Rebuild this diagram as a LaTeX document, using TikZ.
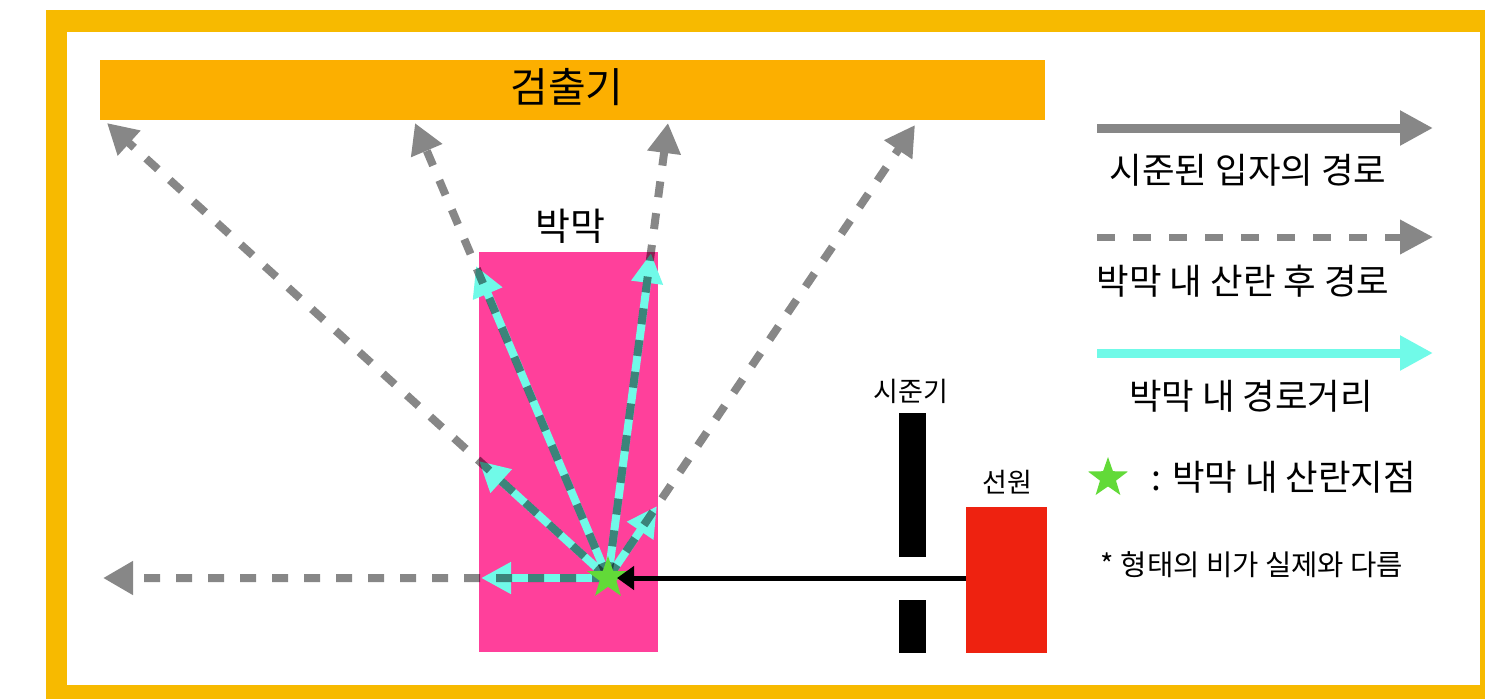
\documentclass[tikz,border=0pt]{standalone}
\usepackage{fontspec}
\setmainfont{Noto Sans CJK KR}
\usetikzlibrary{arrows.meta,shapes.geometric}
\definecolor{frameC}{RGB}{247,186,0}
\definecolor{detC}{RGB}{252,175,0}
\definecolor{pinkC}{RGB}{255,64,155}
\definecolor{redC}{RGB}{238,34,16}
\definecolor{cyanC}{RGB}{112,250,232}
\definecolor{greenC}{RGB}{98,218,56}
\definecolor{greyC}{RGB}{135,135,135}
\begin{document}
\begin{tikzpicture}[x=0.5pt,y=-0.5pt,
  box/.style={inner sep=0pt, outer sep=0pt, anchor=north west},
  scat/.style={draw=black, line width=4pt, dash pattern=on 8pt off 8pt,
    -{Triangle[length=15pt,width=16pt]}},
  inpath/.style={draw=cyanC, line width=4pt, -{Triangle[length=15pt,width=15pt]}},
  starmark/.style={star, star points=5, star point ratio=2.5, fill=greenC, inner sep=0pt},
  lab/.style={inner sep=0pt, text=black},
  legfont/.style={font=\fontsize{17.7pt}{21pt}\selectfont},
]
\useasboundingbox (0,0) rectangle (1485,698);
\clip (0,0) rectangle (1485,698);
% frame
\fill[frameC] (46,10) rectangle (1510,730);
\fill[white] (67,32) rectangle (1480,685);

% detector
\node[box, fill=detC, minimum width=472.5pt, minimum height=30pt] (det) at (100,60) {};
\node[lab, font=\fontsize{20.5pt}{24pt}\selectfont] (detlab) at (567,87) {검출기};

% membrane
\node[box, fill=pinkC, minimum width=89.5pt, minimum height=200pt] (mem) at (479,252) {};
\node[lab, font=\fontsize{19pt}{22pt}\selectfont] (memlab) at (570,226) {박막};

% collimator
\node[box, fill=black, minimum width=13.5pt, minimum height=72pt] (colA) at (899,413) {};
\node[box, fill=black, minimum width=13.5pt, minimum height=26.5pt] (colB) at (899,600) {};
\node[lab, font=\fontsize{13.5pt}{16pt}\selectfont] (collab) at (911,391) {시준기};

% source
\node[box, fill=redC, minimum width=40.5pt, minimum height=73pt] (src) at (966,507) {};
\node[lab, font=\fontsize{13.5pt}{16pt}\selectfont] (srclab) at (1007,482) {선원};

% scattering point and ends
\coordinate (S) at (608,578);
\coordinate (E1) at (103,578);
\coordinate (E2) at (107,123);
\coordinate (E3) at (415,123);
\coordinate (E4) at (668,123);
\coordinate (E5) at (915,125);
\coordinate (C1) at (481,578);
\coordinate (C2) at (479,461);
\coordinate (C3) at (476,266);
\coordinate (C4) at (651,253);
\coordinate (C5) at (657,506);
\coordinate (srcL) at (966,578);
\coordinate (hit) at (617,578);

% paths in membrane
\foreach \c in {C1,C2,C3,C4,C5} \draw[inpath] (S) -- (\c);
% paths after scattering
\foreach \e in {E1,E2,E3,E4,E5} {
  \begin{scope}[transparency group, opacity=0.47]
    \draw[scat] (S) -- (\e);
  \end{scope}
}

% scattering point
\node[starmark, minimum size=22pt] (star) at (S) {};
% incident beam
\draw[line width=2.5pt, -{Triangle[length=8.5pt,width=11.5pt]}] (srcL) -- (hit);

% legend
\coordinate (L1a) at (1097,128); \coordinate (L1b) at (1433,128);
\coordinate (L2a) at (1097,237); \coordinate (L2b) at (1433,237);
\coordinate (L3a) at (1097,353); \coordinate (L3b) at (1433,353);
\draw[greyC, line width=4.5pt, -{Triangle[length=16.5pt,width=16.5pt]}] (L1a) -- (L1b);
\node[lab, legfont] (leg1) at (1248,170) {시준된 입자의 경로};
\draw[greyC, line width=3.5pt, dash pattern=on 9pt off 9pt, -{Triangle[length=16.5pt,width=16.5pt]}] (L2a) -- (L2b);
\node[lab, legfont] (leg2) at (1243,281) {박막 내 산란 후 경로};
\draw[cyanC, line width=4.5pt, -{Triangle[length=16.5pt,width=16.5pt]}] (L3a) -- (L3b);
\node[lab, legfont] (leg3) at (1251,396) {박막 내 경로거리};
\node[starmark, minimum size=21pt] (legstar) at (1108,478) {};
\node[lab, legfont] (leg4) at (1284,477) {: 박막 내 산란지점};
\node[lab, font=\fontsize{14.3pt}{17pt}\selectfont] (note) at (1252,565) {* 형태의 비가 실제와 다름};
\end{tikzpicture}
\end{document}
